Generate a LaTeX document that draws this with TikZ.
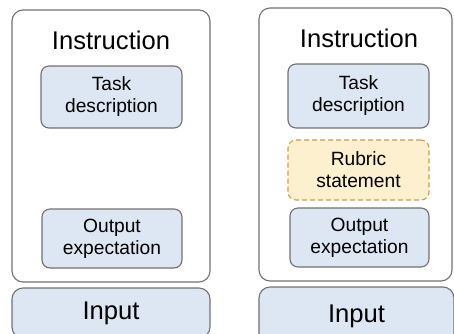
\documentclass[tikz,border=0pt]{standalone}
\usepackage{fontspec}
\setmainfont{Liberation Sans}
\usepackage{tikz}
\usetikzlibrary{shapes}
\definecolor{boxblue}{RGB}{221,231,243}
\definecolor{boxgray}{RGB}{112,112,112}
\definecolor{rubricfill}{RGB}{252,240,206}
\definecolor{rubricline}{RGB}{196,162,70}
\tikzstyle{panel}=[draw=boxgray,line width=1.1pt,rounded corners=11pt,inner sep=0pt]
\tikzstyle{partbox}=[draw=boxgray,fill=boxblue,line width=1.1pt,rounded corners=8pt,align=center,inner sep=0pt,font=\fontsize{19.2}{22}\selectfont]
\tikzstyle{rubricbox}=[partbox,draw=rubricline,fill=rubricfill,dashed,dash pattern=on 5pt off 3pt]
\tikzstyle{title}=[font=\fontsize{25.6}{30}\selectfont]

\begin{document}
\begin{tikzpicture}[x=1pt,y=-1pt]
    \useasboundingbox (0,0) rectangle (454,333);

    % outer panels
    \foreach \x/\y/\w/\h/\name in {111/146/198/272/outerL, 355.5/144.5/193/273/outerR}
        \node[panel, minimum width=\w pt, minimum height=\h pt] (\name) at (\x,\y) {};

    \foreach \x/\y/\name in {111/40/titleL, 359/38/titleR}
        \node[title] (\name) at (\x,\y) {Instruction};

    % parts of the instruction
    \foreach \x/\y/\w/\h/\name/\txt in {111.5/97/141/62/taskL/{Task\\description}, 112/238.5/140/59/outL/{Output\\expectation}, 358.5/96/141/64/taskR/{Task\\description}, 359.5/237.5/139/59/outR/{Output\\expectation}}
        \node[partbox, minimum width=\w pt, minimum height=\h pt] (\name) at (\x,\y) {\txt};

    \node[rubricbox, minimum width=141pt, minimum height=60pt] (rubric) at (358.5,170) {Rubric\\statement};

    % input boxes
    \foreach \x/\y/\w/\h/\name in {111/313/198/50/inL, 356.5/316/195/58/inR}
        \node[partbox, title, rounded corners=11pt, minimum width=\w pt, minimum height=\h pt] (\name) at (\x,\y) {Input};

\end{tikzpicture}
\end{document}
